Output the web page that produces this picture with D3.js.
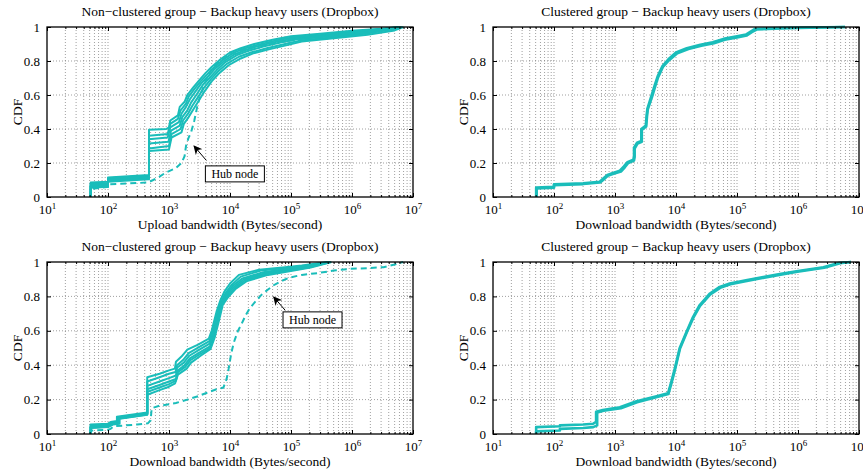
<!DOCTYPE html>
<html>
<head>
<meta charset="utf-8">
<script src="https://cdn.jsdelivr.net/npm/d3@7"></script>
<style>
body { margin: 0; background: #fff; }
text { font-family: "Liberation Serif", "Times New Roman", serif; }
</style>
</head>
<body>
<script>
// tick values
const xMajor = [1e1, 1e2, 1e3, 1e4, 1e5, 1e6, 1e7];
const yTicks = [0, 0.2, 0.4, 0.6, 0.8, 1];

// top left: upload, non-clustered (six users + hub node)
const tlA = [[52,0],[52,0.085],[100,0.09],[100,0.115],[470,0.13],[470,0.395],[900,0.40],[1000,0.41],[1050,0.45],[1400,0.48],[1500,0.53],[1800,0.56],[2000,0.60],[2500,0.645],[3200,0.69],[4000,0.73],[5000,0.765],[7000,0.81],[10000,0.85],[15000,0.875],[25000,0.90],[50000,0.925],[100000,0.945],[300000,0.96],[1e6,0.978],[3e6,0.99],[6e6,1]];
const tlB = [[52,0],[52,0.078],[100,0.082],[100,0.11],[470,0.125],[470,0.36],[950,0.37],[1050,0.43],[1400,0.46],[1550,0.51],[1900,0.55],[2100,0.59],[2600,0.635],[3300,0.68],[4200,0.72],[5200,0.755],[7500,0.805],[11000,0.845],[16000,0.87],[28000,0.895],[55000,0.92],[110000,0.94],[350000,0.955],[1.2e6,0.975],[3.5e6,0.99],[6e6,1]];
const tlC = [[52,0],[52,0.072],[100,0.076],[100,0.105],[470,0.12],[470,0.34],[950,0.35],[1050,0.41],[1450,0.44],[1600,0.49],[1900,0.53],[2200,0.575],[2700,0.62],[3400,0.67],[4400,0.71],[5500,0.75],[8000,0.80],[12000,0.84],[18000,0.865],[30000,0.89],[60000,0.915],[120000,0.935],[400000,0.95],[1.3e6,0.97],[4e6,0.99],[6e6,1]];
const tlD = [[52,0],[52,0.066],[100,0.07],[100,0.10],[470,0.115],[470,0.315],[980,0.325],[1080,0.39],[1500,0.42],[1650,0.47],[2000,0.51],[2300,0.555],[2800,0.60],[3600,0.66],[4600,0.70],[6000,0.745],[8500,0.795],[13000,0.835],[20000,0.86],[35000,0.885],[70000,0.91],[130000,0.93],[450000,0.945],[1.5e6,0.965],[4e6,0.985],[6.5e6,1]];
const tlE = [[52,0],[52,0.06],[100,0.064],[100,0.095],[470,0.11],[470,0.285],[1000,0.30],[1100,0.37],[1550,0.40],[1700,0.45],[2050,0.49],[2400,0.535],[2900,0.58],[3700,0.64],[4800,0.69],[6200,0.735],[9000,0.785],[14000,0.825],[22000,0.85],[40000,0.875],[80000,0.90],[140000,0.92],[500000,0.94],[1.6e6,0.96],[4.5e6,0.985],[6.5e6,1]];
const tlF = [[52,0],[52,0.055],[100,0.06],[100,0.09],[470,0.105],[470,0.27],[1000,0.28],[1100,0.35],[1600,0.38],[1750,0.43],[2100,0.47],[2500,0.515],[3000,0.56],[3800,0.62],[5000,0.68],[6500,0.725],[9500,0.775],[15000,0.815],[24000,0.845],[45000,0.87],[90000,0.895],[150000,0.915],[550000,0.935],[1.8e6,0.955],[5e6,0.98],[7e6,1]];
const tlHub = [[52,0],[52,0.045],[60,0.05],[100,0.06],[100,0.075],[450,0.085],[550,0.10],[700,0.12],[900,0.145],[1300,0.17],[1600,0.20],[1800,0.24],[1900,0.30],[2100,0.35],[2300,0.38],[2600,0.45],[2900,0.53],[3200,0.59],[3700,0.65],[4400,0.72],[5200,0.76],[7000,0.80],[10000,0.84],[20000,0.875],[50000,0.905],[150000,0.93],[600000,0.955],[2e6,0.975],[6e6,1]];

// top right: download, clustered
const trA = [[51,0],[51,0.055],[100,0.06],[100,0.075],[300,0.08],[560,0.09],[650,0.11],[750,0.13],[900,0.14],[1200,0.155],[1400,0.18],[1600,0.205],[2000,0.22],[2050,0.24],[2050,0.29],[2300,0.32],[2700,0.33],[2700,0.40],[3200,0.42],[3300,0.48],[3400,0.52],[4000,0.60],[4500,0.66],[5000,0.71],[6000,0.77],[7500,0.81],[10000,0.85],[15000,0.875],[25000,0.895],[40000,0.91],[60000,0.93],[100000,0.945],[140000,0.955],[170000,0.975],[200000,0.99],[600000,0.995],[5.9e6,1]];
const trB = [[52,0],[52,0.05],[100,0.055],[100,0.07],[300,0.076],[570,0.085],[660,0.105],[760,0.125],[920,0.135],[1250,0.15],[1450,0.175],[1650,0.2],[2050,0.215],[2100,0.235],[2100,0.285],[2350,0.315],[2750,0.325],[2750,0.395],[3250,0.415],[3350,0.475],[3450,0.515],[4100,0.595],[4600,0.655],[5100,0.705],[6100,0.765],[7700,0.805],[10500,0.845],[16000,0.87],[26000,0.89],[42000,0.905],[63000,0.925],[105000,0.94],[145000,0.95],[175000,0.97],[210000,0.985],[650000,0.993],[5.9e6,1]];

// bottom left: download, non-clustered (six users + hub node)
const blA = [[52,0],[52,0.055],[100,0.06],[110,0.07],[140,0.075],[140,0.1],[440,0.125],[440,0.33],[700,0.35],[1000,0.37],[1250,0.38],[1300,0.42],[1600,0.45],[2000,0.49],[3000,0.52],[4500,0.555],[5000,0.6],[6000,0.71],[7000,0.78],[8000,0.825],[10000,0.875],[14000,0.925],[30000,0.955],[80000,0.97],[150000,0.98],[400000,1]];
const blB = [[52,0],[52,0.05],[100,0.055],[115,0.065],[145,0.07],[145,0.097],[440,0.12],[440,0.305],[700,0.33],[1000,0.35],[1280,0.36],[1350,0.40],[1700,0.43],[2100,0.47],[3100,0.505],[4600,0.54],[5200,0.6],[6200,0.70],[7200,0.77],[8300,0.815],[10500,0.865],[15000,0.915],[32000,0.95],[90000,0.967],[170000,0.978],[420000,1]];
const blC = [[52,0],[52,0.045],[100,0.05],[115,0.062],[145,0.068],[145,0.095],[440,0.118],[440,0.28],[700,0.305],[1000,0.325],[1300,0.34],[1350,0.385],[1750,0.415],[2150,0.455],[3150,0.49],[4650,0.525],[5300,0.59],[6300,0.69],[7300,0.765],[8500,0.81],[11000,0.86],[16000,0.905],[35000,0.94],[100000,0.963],[180000,0.975],[430000,1]];
const blD = [[52,0],[52,0.04],[100,0.045],[115,0.06],[150,0.065],[150,0.092],[440,0.116],[440,0.26],[700,0.285],[1000,0.305],[1300,0.32],[1400,0.37],[1800,0.40],[2200,0.44],[3200,0.475],[4700,0.51],[5400,0.58],[6400,0.68],[7400,0.76],[8700,0.805],[11500,0.855],[17000,0.90],[38000,0.935],[110000,0.96],[190000,0.972],[440000,1]];
const blE = [[52,0],[52,0.037],[100,0.042],[120,0.058],[150,0.063],[150,0.09],[440,0.114],[440,0.245],[700,0.27],[1000,0.29],[1300,0.31],[1400,0.36],[1850,0.39],[2250,0.43],[3250,0.465],[4750,0.50],[5500,0.57],[6500,0.67],[7500,0.755],[9000,0.80],[12000,0.85],[18000,0.895],[40000,0.93],[120000,0.957],[200000,0.97],[450000,1]];
const blF = [[52,0],[52,0.035],[100,0.04],[120,0.055],[155,0.06],[155,0.088],[440,0.112],[440,0.228],[700,0.255],[1000,0.275],[1260,0.295],[1400,0.345],[1950,0.38],[2300,0.415],[3300,0.455],[4800,0.495],[5600,0.56],[6600,0.66],[7600,0.75],[9300,0.795],[12500,0.845],[19000,0.89],[42000,0.925],[130000,0.955],[210000,0.968],[460000,1]];
const blHub = [[52,0],[52,0.02],[100,0.025],[110,0.03],[125,0.045],[300,0.055],[450,0.062],[500,0.08],[520,0.15],[700,0.165],[900,0.17],[1300,0.18],[2000,0.2],[3000,0.22],[4200,0.24],[6000,0.26],[7800,0.27],[8800,0.32],[9500,0.38],[10500,0.47],[11500,0.53],[13500,0.6],[15500,0.64],[18000,0.69],[21000,0.73],[26000,0.77],[33000,0.81],[42000,0.84],[52000,0.865],[70000,0.89],[96000,0.91],[150000,0.925],[270000,0.935],[500000,0.95],[940000,0.96],[2e6,0.965],[3.3e6,0.97],[5e6,0.985],[6.9e6,1]];

// bottom right: download, clustered
const brA = [[51,0],[51,0.04],[125,0.045],[125,0.05],[300,0.055],[440,0.06],[490,0.07],[490,0.13],[630,0.14],[1200,0.155],[2250,0.19],[4800,0.22],[7400,0.237],[8400,0.305],[9600,0.383],[11500,0.5],[14900,0.595],[19000,0.68],[24500,0.75],[36000,0.817],[52000,0.855],[76000,0.875],[140000,0.894],[270000,0.913],[500000,0.93],[940000,0.946],[2.6e6,0.97],[4.8e6,0.996],[7.4e6,1]];
const brB = [[51,0],[51,0.015],[125,0.02],[125,0.03],[300,0.035],[440,0.04],[510,0.05],[510,0.125],[650,0.135],[1250,0.15],[2300,0.185],[4900,0.215],[7500,0.232],[8500,0.30],[9700,0.378],[11600,0.495],[15000,0.59],[19200,0.675],[24800,0.745],[36500,0.812],[53000,0.85],[78000,0.871],[145000,0.89],[280000,0.909],[520000,0.926],[980000,0.943],[2.7e6,0.967],[4.9e6,0.993],[7.4e6,1]];

const teal = "#1abdba";

const panels = [
  { left: 47, right: 413, top: 27, bottom: 197,
    title: "Non\u2212clustered group \u2212 Backup heavy users (Dropbox)",
    xlabel: "Upload bandwidth (Bytes/second)",
    solid: [tlA, tlB, tlC, tlD, tlE, tlF], dashed: [tlHub], width: 2,
    hub: { tip: [2570, 0.30], tail: [4100, 0.215], box: [3950, 0.183] } },
  { left: 493, right: 859, top: 27, bottom: 197,
    title: "Clustered group \u2212 Backup heavy users (Dropbox)",
    xlabel: "Download bandwidth (Bytes/second)",
    solid: [trA, trB], dashed: [], width: 2.6 },
  { left: 47, right: 413, top: 262, bottom: 434,
    title: "Non\u2212clustered group \u2212 Backup heavy users (Dropbox)",
    xlabel: "Download bandwidth (Bytes/second)",
    solid: [blA, blB, blC, blD, blE, blF], dashed: [blHub], width: 2,
    hub: { tip: [52000, 0.797], tail: [80000, 0.72], box: [74000, 0.71] } },
  { left: 493, right: 859, top: 262, bottom: 434,
    title: "Clustered group \u2212 Backup heavy users (Dropbox)",
    xlabel: "Download bandwidth (Bytes/second)",
    solid: [brA, brB], dashed: [], width: 2.6 }
];

const svg = d3.select("body").append("svg")
  .attr("width", 863)
  .attr("height", 471);

svg.append("defs").append("marker")
  .attr("id", "arrow")
  .attr("viewBox", "0 0 10 10")
  .attr("refX", 9).attr("refY", 5)
  .attr("markerWidth", 9).attr("markerHeight", 9)
  .attr("markerUnits", "userSpaceOnUse")
  .attr("orient", "auto")
  .append("path")
  .attr("d", "M0,0 L10,5 L0,10 L3,5 Z")
  .attr("fill", "#000");

// minor decades 2..9
const xMinor = [];
for (let k = 1; k < 7; k++) {
  for (let m = 2; m <= 9; m++) xMinor.push(m * Math.pow(10, k));
}

function supLabels(g) {
  g.selectAll(".tick text").each(function(d) {
    const t = d3.select(this).text(null);
    t.append("tspan").text("10");
    t.append("tspan").attr("dy", "-0.6em").attr("font-size", "9px")
      .text(Math.round(Math.log10(d)));
  });
}

panels.forEach((p) => {
  const x = d3.scaleLog().domain([10, 1e7]).range([p.left, p.right]);
  const y = d3.scaleLinear().domain([0, 1]).range([p.bottom, p.top]);
  const g = svg.append("g");

  // grid
  g.selectAll(".vgrid")
    .data(xMinor.concat(xMajor.slice(1, -1)))
    .enter().append("line")
    .attr("x1", (d) => x(d)).attr("x2", (d) => x(d))
    .attr("y1", p.top).attr("y2", p.bottom)
    .attr("stroke", "#777").attr("stroke-width", 0.7)
    .attr("stroke-dasharray", "1,2");
  g.selectAll(".hgrid")
    .data(yTicks.slice(1, -1))
    .enter().append("line")
    .attr("x1", p.left).attr("x2", p.right)
    .attr("y1", (d) => y(d)).attr("y2", (d) => y(d))
    .attr("stroke", "#777").attr("stroke-width", 0.7)
    .attr("stroke-dasharray", "1,2");

  const line = d3.line().x((d) => x(d[0])).y((d) => y(d[1]));

  g.selectAll(".solid")
    .data(p.solid)
    .enter().append("path")
    .attr("d", line)
    .attr("fill", "none")
    .attr("stroke", teal)
    .attr("stroke-width", p.width)
    .attr("stroke-linejoin", "round");

  g.selectAll(".dashed")
    .data(p.dashed)
    .enter().append("path")
    .attr("d", line)
    .attr("fill", "none")
    .attr("stroke", teal)
    .attr("stroke-width", p.width)
    .attr("stroke-dasharray", "6,4");

  // axes, ticks point inward
  const xb = g.append("g").attr("transform", "translate(0," + p.bottom + ")")
    .call(d3.axisBottom(x).tickValues(xMajor).tickSize(-4).tickPadding(8));
  xb.call(supLabels);
  g.append("g").attr("transform", "translate(0," + p.bottom + ")")
    .call(d3.axisBottom(x).tickValues(xMinor).tickSize(-2).tickFormat(""));
  g.append("g").attr("transform", "translate(0," + p.top + ")")
    .call(d3.axisTop(x).tickValues(xMajor).tickSize(-4).tickFormat(""));
  g.append("g").attr("transform", "translate(0," + p.top + ")")
    .call(d3.axisTop(x).tickValues(xMinor).tickSize(-2).tickFormat(""));
  g.append("g").attr("transform", "translate(" + p.left + ",0)")
    .call(d3.axisLeft(y).tickValues(yTicks).tickSize(-4).tickPadding(7).tickFormat((d) => String(d)));
  g.append("g").attr("transform", "translate(" + p.right + ",0)")
    .call(d3.axisRight(y).tickValues(yTicks).tickSize(-4).tickFormat(""));

  g.selectAll(".domain").remove();
  g.selectAll(".tick line").attr("stroke", "#000");
  g.selectAll(".tick text")
    .attr("font-size", "13px")
    .attr("fill", "#000")
    .attr("font-family", "Liberation Serif, Times New Roman, serif");

  g.append("rect")
    .attr("x", p.left).attr("y", p.top)
    .attr("width", p.right - p.left).attr("height", p.bottom - p.top)
    .attr("fill", "none").attr("stroke", "#000").attr("stroke-width", 1.3);

  // labels
  g.append("text")
    .attr("x", (p.left + p.right) / 2).attr("y", p.top - 11)
    .attr("text-anchor", "middle").attr("font-size", "13.5px")
    .text(p.title);
  g.append("text")
    .attr("x", (p.left + p.right) / 2).attr("y", p.bottom + 32)
    .attr("text-anchor", "middle").attr("font-size", "13.5px")
    .text(p.xlabel);
  g.append("text")
    .attr("transform", "translate(" + (p.left - 25) + "," + ((p.top + p.bottom) / 2) + ") rotate(-90)")
    .attr("text-anchor", "middle").attr("font-size", "13.5px")
    .text("CDF");

  if (p.hub) {
    const h = p.hub;
    g.append("line")
      .attr("x1", x(h.tail[0])).attr("y1", y(h.tail[1]))
      .attr("x2", x(h.tip[0])).attr("y2", y(h.tip[1]))
      .attr("stroke", "#000").attr("stroke-width", 1)
      .attr("marker-end", "url(#arrow)");
    const bx = x(h.box[0]);
    const by = y(h.box[1]);
    const rect = g.append("rect").attr("fill", "#fff")
      .attr("stroke", "#000").attr("stroke-width", 1);
    const t = g.append("text")
      .attr("x", bx + 6).attr("y", by + 12)
      .attr("font-size", "12px")
      .text("Hub node");
    const bb = t.node().getBBox();
    rect.attr("x", bx).attr("y", by)
      .attr("width", bb.width + 12).attr("height", 16);
  }
});
</script>
</body>
</html>
